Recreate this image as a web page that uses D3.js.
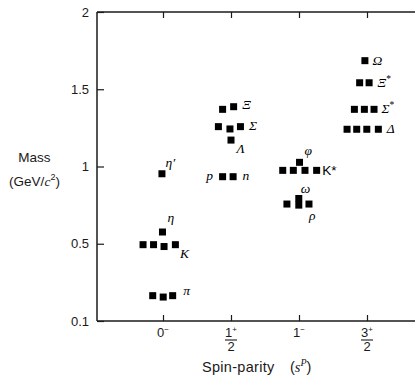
<!DOCTYPE html>
<html><head><meta charset="utf-8">
<script src="https://cdn.jsdelivr.net/npm/d3@7"></script>
<style>body{margin:0;background:#fff}</style>
</head><body>
<script>
// ---- data ----
const categories = ["0-", "1/2+", "1-", "3/2+"];
const xTickMain = ["0", "1", "1", "3"];
const xTickSup = ["\u2212", "+", "\u2212", "+"];
const xTickDen = [null, "2", null, "2"];
const yTickValues = [0, 0.5, 1, 1.5, 2];
const yTickLabels = ["0.1", "0.5", "1", "1.5", "2"];

// one row per multiplet (masses in GeV/c^2, slot = horizontal place within the group)
const rowLabel    = ["π", "K", "η", "η′", "p", "n", "Λ", "Σ", "Ξ", "ρ", "ω", "K*", "φ", "Δ", "Σ*", "Ξ*", "Ω"];
const rowCategory = ["0-", "0-", "0-", "0-", "1/2+", "1/2+", "1/2+", "1/2+", "1/2+", "1-", "1-", "1-", "1-", "3/2+", "3/2+", "3/2+", "3/2+"];
const rowMasses = [
  [0.164, 0.155, 0.164],
  [0.494, 0.494, 0.482, 0.494],
  [0.576],
  [0.953],
  [0.934],
  [0.934],
  [1.171],
  [1.258, 1.243, 1.258],
  [1.370, 1.387],
  [0.757, 0.750, 0.757],
  [0.793],
  [0.975, 0.975, 0.975, 0.975],
  [1.027],
  [1.241, 1.241, 1.241, 1.241],
  [1.370, 1.370, 1.370],
  [1.542, 1.542],
  [1.685]
];
const rowSlots = [
  [-0.98, 0.02, 0.92],
  [-1.9, -0.9, 0.1, 1.18],
  [-0.05],
  [-0.1],
  [-0.8],
  [0.2],
  [0.0],
  [-1.2, -0.1, 0.9],
  [-0.8, 0.25],
  [-1.15, -0.02, 0.95],
  [-0.02],
  [-1.55, -0.54, 0.57, 1.68],
  [0.05],
  [-1.9, -0.98, -0.02, 1.08],
  [-1.2, -0.25, 0.67],
  [-0.7, 0.2],
  [-0.2]
];

// ---- layout / style ----
const W = 415, H = 381;
const mLeft = 97, mTop = 12, mBottom = 321, mRight = 415;
const sq = 7, slotStep = 10.5;
const ink = "#1a1a1a";
const serif = "'Liberation Serif', 'Times New Roman', serif";
// label placement: [side, dx from square edge, dy baseline from square center, font]
const labelPlace = {
  "π": ["r", 7, -1], "K": ["r", 1, 13], "η": ["r", 1.5, -10], "η′": ["r", 0, -7],
  "p": ["l", 6, 3.5], "n": ["r", 6, 3.5], "Λ": ["r", 2, 12.5], "Σ": ["r", 5, 3.5], "Ξ": ["r", 5, 2],
  "ρ": ["r", -3.5, 15.5], "ω": ["r", -1.5, -5.5], "K*": ["r", 2, 4.7, "sans"], "φ": ["r", 1.5, -7.5],
  "Δ": ["r", 5, 4], "Σ*": ["r", 4, 3.5], "Ξ*": ["r", 5, 4], "Ω": ["r", 4, 4.3]
};

const svg = d3.select("body").append("svg").attr("width", W).attr("height", H)
  .style("font-family", "'Liberation Sans', Arial, sans-serif");

const x = d3.scalePoint().domain(categories).range([163, 367]);
const y = d3.scaleLinear().domain([0, 2]).range([mBottom, mTop]);
const slot = d3.scaleLinear().domain([-1, 1]).range([-slotStep, slotStep]);

// frame lines
svg.append("line").attr("x1", mLeft).attr("x2", mRight).attr("y1", mTop).attr("y2", mTop)
  .attr("stroke", ink).attr("stroke-width", 1.5);
svg.append("line").attr("x1", mLeft).attr("x2", mRight).attr("y1", mBottom).attr("y2", mBottom)
  .attr("stroke", ink).attr("stroke-width", 1.5);
svg.append("line").attr("x1", mLeft).attr("x2", mLeft).attr("y1", mTop).attr("y2", mBottom)
  .attr("stroke", ink).attr("stroke-width", 1.5);

// y axis
const yAxis = svg.append("g").attr("transform", `translate(${mLeft},0)`)
  .call(d3.axisLeft(y).tickValues(yTickValues).tickSize(-7).tickSizeOuter(0).tickPadding(8)
    .tickFormat((d, i) => yTickLabels[i]));
yAxis.select(".domain").remove();
yAxis.selectAll("line").attr("stroke", ink).attr("stroke-width", 1.2);
yAxis.selectAll("text").attr("font-size", 13).attr("fill", ink)
  .attr("font-family", "'Liberation Sans', Arial, sans-serif");

// bottom & top axes (ticks only)
const xb = svg.append("g").attr("transform", `translate(0,${mBottom})`)
  .call(d3.axisBottom(x).tickSize(-6).tickSizeOuter(0).tickFormat(""));
xb.select(".domain").remove();
xb.selectAll("line").attr("stroke", ink).attr("stroke-width", 1.2);
const xt = svg.append("g").attr("transform", `translate(0,${mTop})`)
  .call(d3.axisTop(x).tickSize(-6).tickSizeOuter(0).tickFormat(""));
xt.select(".domain").remove();
xt.selectAll("line").attr("stroke", ink).attr("stroke-width", 1.2);

// x tick labels
categories.forEach((c, i) => {
  const cx = x(c);
  const g = svg.append("g").attr("fill", ink).attr("font-size", 13);
  const t = g.append("text").attr("x", cx).attr("y", 337).attr("text-anchor", "middle");
  t.append("tspan").text(xTickMain[i]);
  t.append("tspan").attr("font-size", 8).attr("dy", -5).text(xTickSup[i]);
  if (xTickDen[i]) {
    g.append("line").attr("x1", cx - 6).attr("x2", cx + 6).attr("y1", 340).attr("y2", 340)
      .attr("stroke", ink).attr("stroke-width", 1.1);
    g.append("text").attr("x", cx).attr("y", 351).attr("text-anchor", "middle").text(xTickDen[i]);
  }
});

// axis titles
const yt = svg.append("g").attr("fill", ink).attr("font-size", 13.5);
yt.append("text").attr("x", 34.5).attr("y", 162).attr("text-anchor", "middle").text("Mass");
const yt2 = yt.append("text").attr("x", 34.5).attr("y", 186).attr("text-anchor", "middle");
yt2.append("tspan").text("(GeV/");
yt2.append("tspan").attr("font-family", serif).attr("font-style", "italic").text("c");
yt2.append("tspan").attr("font-size", 9).attr("dy", -6).text("2");
yt2.append("tspan").attr("dy", 6).text(")");

const xtitleG = svg.append("g").attr("fill", ink).attr("font-size", 14.5);
xtitleG.append("text").attr("x", 202).attr("y", 372).attr("letter-spacing", 0.3).text("Spin-parity");
const xt2 = xtitleG.append("text").attr("x", 290).attr("y", 372);
xt2.append("tspan").text("(");
xt2.append("tspan").attr("font-family", serif).attr("font-style", "italic").text("s");
xt2.append("tspan").attr("font-family", serif).attr("font-style", "italic")
  .attr("font-size", 10).attr("dy", -6).text("P");
xt2.append("tspan").attr("dy", 6).text(")");

// squares
const squares = [];
rowLabel.forEach((lab, r) => {
  rowMasses[r].forEach((m, k) => squares.push({ cat: rowCategory[r], m, s: rowSlots[r][k] }));
});
svg.append("g").selectAll("rect").data(squares).join("rect")
  .attr("x", d => x(d.cat) + slot(d.s) - sq / 2)
  .attr("y", d => y(d.m) - sq / 2)
  .attr("width", sq).attr("height", sq).attr("fill", "#000");

// particle labels
rowLabel.forEach((lab, r) => {
  const p = labelPlace[lab];
  const ms = rowMasses[r], ss = rowSlots[r];
  const idx = p[0] === "r" ? ss.indexOf(d3.max(ss)) : ss.indexOf(d3.min(ss));
  const cx = x(rowCategory[r]) + slot(ss[idx]);
  const cy = y(ms[idx]);
  const t = svg.append("text").attr("fill", "#000").attr("font-size", 13.5)
    .attr("y", cy + p[2]);
  if (p[0] === "r") t.attr("x", cx + sq / 2 + p[1]).attr("text-anchor", "start");
  else t.attr("x", cx - sq / 2 - p[1]).attr("text-anchor", "end");
  if (p[3] === "sans") {
    t.attr("font-family", "'Liberation Sans', Arial, sans-serif").attr("font-size", 13.5).text(lab);
  } else {
    t.attr("font-family", serif).attr("font-style", "italic");
    if (lab.length > 1 && lab.endsWith("*")) {
      t.append("tspan").text(lab[0]);
      t.append("tspan").attr("font-size", 9.5).attr("dy", -5).attr("font-style", "normal").text("*");
    } else t.text(lab);
  }
});
</script>
</body></html>
